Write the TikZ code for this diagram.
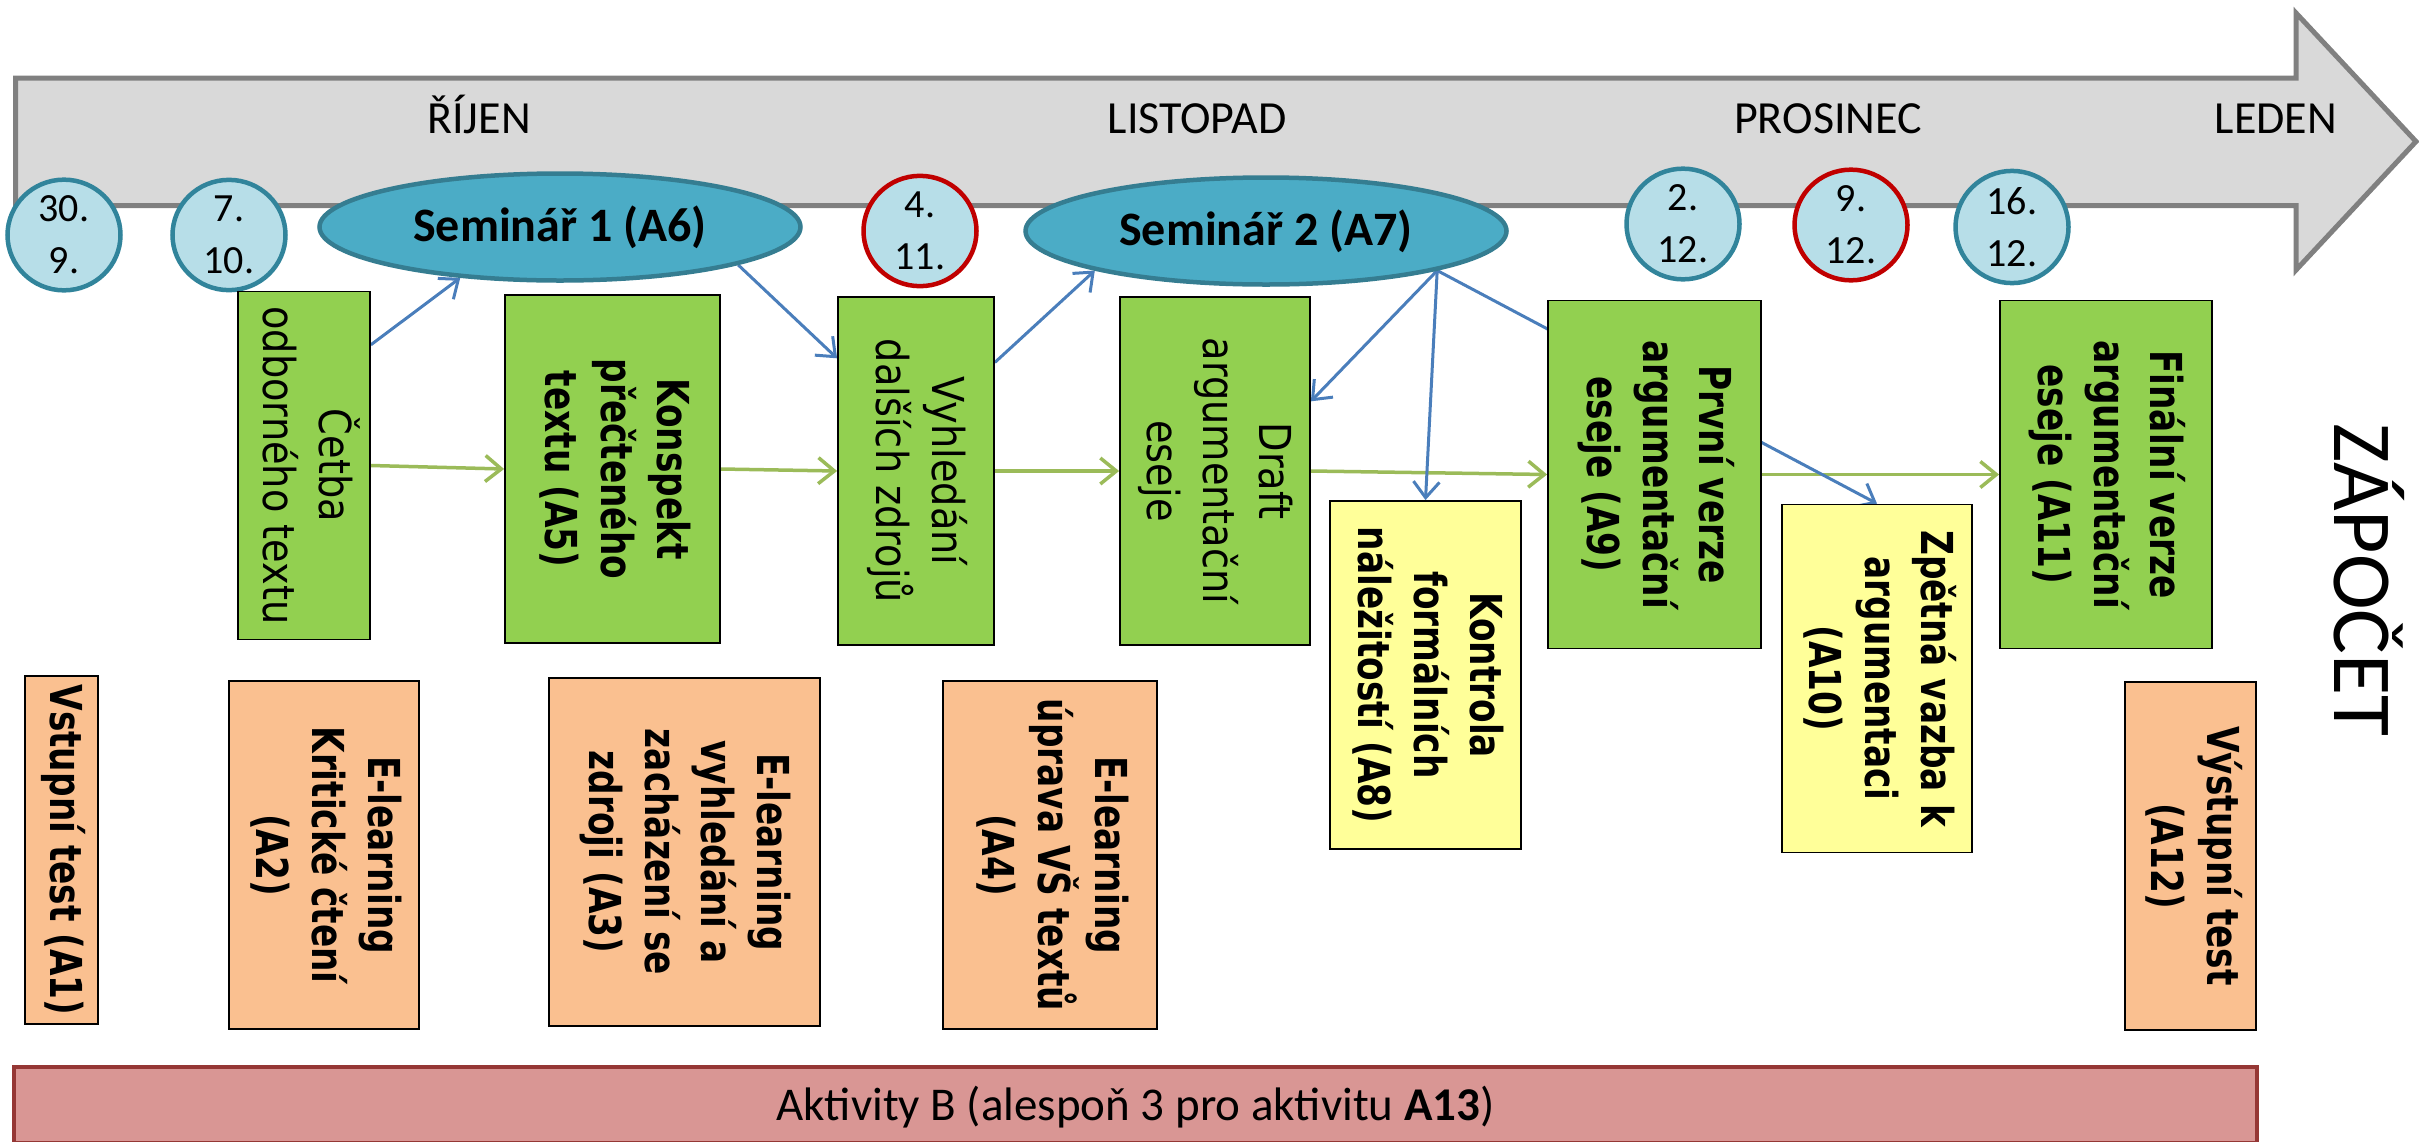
\documentclass[tikz,border=0pt]{standalone}
\usepackage{fontspec}
\setmainfont{Carlito}
\newfontfamily\boxreg{DejaVu Sans}[FakeStretch=0.87]
\newfontfamily\boxbold{DejaVu Sans}[FakeStretch=0.78]
\usepackage{graphicx}
\usetikzlibrary{shapes.geometric,arrows.meta,backgrounds}

\definecolor{bandfill}{HTML}{D9D9D9}
\definecolor{bandline}{HTML}{808080}
\definecolor{datefill}{HTML}{B7DEE8}
\definecolor{dateline}{HTML}{31849B}
\definecolor{datered}{HTML}{C00000}
\definecolor{semfill}{HTML}{4BACC6}
\definecolor{semline}{HTML}{357D91}
\definecolor{greenfill}{HTML}{92D050}
\definecolor{orangefill}{HTML}{FAC090}
\definecolor{yellowfill}{HTML}{FFFF99}
\definecolor{barfill}{HTML}{D99694}
\definecolor{barline}{HTML}{953735}
\definecolor{bluearrow}{HTML}{4A7EBB}
\definecolor{greenarrow}{HTML}{9BBB59}

\newcommand{\vlines}[1]{\rotatebox[origin=c]{-90}{\begin{tabular}{@{}c@{}}#1\end{tabular}}}

\tikzset{
  actbox/.style={draw=black, line width=1.8pt, inner sep=0pt, minimum height=348pt,
    font=\boxbold\bfseries\fontsize{44pt}{56pt}\selectfont},
  plainact/.style={font=\boxreg\fontsize{44pt}{56pt}\selectfont},
  greenact/.style={actbox, fill=greenfill},
  orangeact/.style={actbox, fill=orangefill},
  yellowact/.style={actbox, fill=yellowfill},
  datebubble/.style={ellipse, draw=dateline, line width=4.5pt, fill=datefill, inner sep=0pt,
    minimum width=113pt, minimum height=108pt, align=center,
    font=\fontsize{40pt}{52pt}\selectfont},
  redbubble/.style={datebubble, draw=datered},
  seminar/.style={ellipse, draw=semline, line width=4.5pt, fill=semfill, inner sep=0pt,
    minimum width=481pt, minimum height=107pt, font=\bfseries\fontsize{48pt}{58pt}\selectfont},
  month/.style={anchor=base, font=\fontsize{46pt}{56pt}\selectfont},
  flowarrow/.style={draw=bluearrow, line width=3pt, -{Straight Barb[length=16pt,width=26pt]}},
  seqarrow/.style={draw=greenarrow, line width=3.5pt, -{Straight Barb[length=16pt,width=26pt]}},
}

\begin{document}
\begin{tikzpicture}[x=1pt,y=1pt,yscale=-1,xscale=1]
\useasboundingbox (0,0) rectangle (2419,1141);

% timeline
\draw[draw=bandline, fill=bandfill, line width=5pt] (15.5,78) -- (2296,78) -- (2296,13) -- (2416,141.5) -- (2296,270) -- (2296,205.5) -- (15.5,205.5) -- cycle;

\node[month] (oct) at (479,133) {ŘÍJEN};
\node[month] (nov) at (1197,133) {LISTOPAD};
\node[month] (dec) at (1828,133) {PROSINEC};
\node[month] (jan) at (2276,133) {LEDEN};

\node[datebubble] (d1) at (64,235) {30.\\9.};
\node[datebubble] (d2) at (229,235) {7.\\10.};
\node[redbubble] (d3) at (920,231) {4.\\11.};
\node[datebubble] (d4) at (1683,224) {2.\\12.};
\node[redbubble] (d5) at (1851,225) {9.\\12.};
\node[datebubble] (d6) at (2012,227) {16.\\12.};

\node[seminar] (sem1) at (560,227) {Seminář 1 (A6)};
\node[seminar] (sem2) at (1266,231) {Seminář 2 (A7)};

% activities
\node[greenact, plainact, minimum width=132pt] (cetba) at (304,465.5) {\vlines{Četba\\odborného textu}};
\node[greenact, minimum width=215pt] (konspekt) at (612.5,469) {\vlines{Konspekt\\přečteného\\textu (A5)}};
\node[greenact, plainact, minimum width=156pt] (dalsi) at (916,471) {\vlines{Vyhledání\\dalších zdrojů}};
\node[greenact, plainact, minimum width=190pt] (draft) at (1215,471) {\vlines{Draft\\argumentační\\eseje}};
\node[yellowact, minimum width=191pt] (kontrola) at (1425.5,675) {\vlines{Kontrola\\formálních\\náležitostí (A8)}};
\node[greenact, minimum width=213pt] (prvni) at (1654.5,474.5) {\vlines{První verze\\argumentační\\eseje (A9)}};
\node[yellowact, minimum width=190pt] (zpetna) at (1877,678.5) {\vlines{Zpětná vazba k\\argumentaci\\(A10)}};
\node[greenact, minimum width=212pt] (finalni) at (2106,474.5) {\vlines{Finální verze\\argumentační\\eseje (A11)}};

\node[orangeact, minimum width=73pt] (vstup) at (61.5,850) {\vlines{Vstupní test (A1)}};
\node[orangeact, minimum width=190pt] (kriticke) at (324,855) {\vlines{E-learning\\Kritické čtení\\(A2)}};
\node[orangeact, minimum width=271pt] (zdroje) at (684.5,852) {\vlines{E-learning\\vyhledání a\\zacházení se\\zdroji (A3)}};
\node[orangeact, minimum width=214pt] (uprava) at (1050,855) {\vlines{E-learning\\úprava VŠ textů\\(A4)}};
\node[orangeact, minimum width=131pt] (vystup) at (2190.5,856) {\vlines{Výstupní test\\(A12)}};

\node[rotate=-90, anchor=base, font=\fontsize{84pt}{96pt}\selectfont] (zapocet) at (2334,580) {ZÁPOČET};

\node[draw=barline, fill=barfill, line width=4pt, inner sep=0pt, minimum width=2243pt, minimum height=76pt,
  text height=33pt, text depth=3pt, font=\fontsize{47pt}{56pt}\selectfont] (aktivity) at (1135.5,1105)
  {Aktivity B (alespoň 3 pro aktivitu \textbf{A13})};

\begin{scope}[on background layer]
\draw[seqarrow] (cetba.east) -- (konspekt.west);
\draw[seqarrow] (konspekt.east) -- (dalsi.west);
\draw[seqarrow] (dalsi.east) -- (draft.west);
\draw[seqarrow] (draft.east) -- (prvni.west);
\draw[seqarrow] (prvni.east) -- (finalni.west);

\draw[flowarrow] (cetba.61) -- (sem1.207);
\draw[flowarrow] (sem1.-12) -- (dalsi.125);
\draw[flowarrow] (dalsi.54) -- (sem2.193);
\draw[flowarrow] (sem2.-13) -- (draft.36);
\draw[flowarrow] (sem2.-13) -- (kontrola.north);
\draw[flowarrow] (sem2.-13) -- (zpetna.north);
\end{scope}

\end{tikzpicture}
\end{document}
